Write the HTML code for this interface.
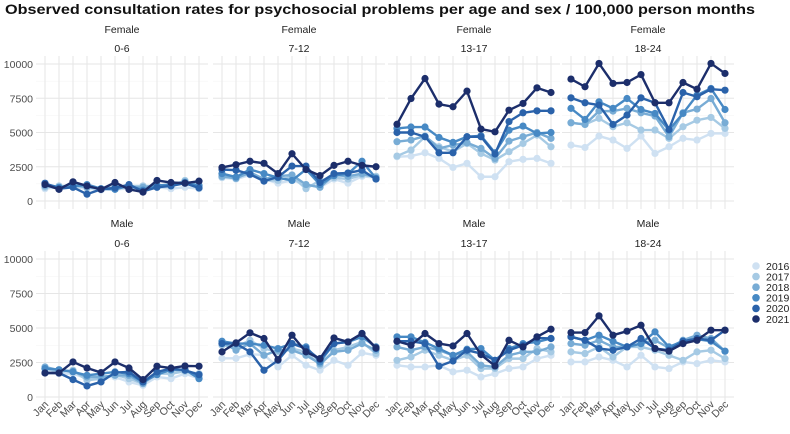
<!DOCTYPE html>
<html><head><meta charset="utf-8"><style>
body{margin:0;background:#fff;}
svg{font-family:"Liberation Sans",sans-serif;}
</style></head><body>
<svg id="chart" width="790" height="429" viewBox="0 0 790 429" xmlns="http://www.w3.org/2000/svg">
<text x="5" y="14" font-size="14" font-weight="bold" fill="#111" textLength="750" lengthAdjust="spacingAndGlyphs">Observed consultation rates for psychosocial problems per age and sex / 100,000 person months</text>
<g id="panels"></g>
<g id="legend"></g>
</svg>
<script>
const months = ["Jan","Feb","Mar","Apr","May","Jun","Jul","Aug","Sep","Oct","Nov","Dec"];
const years = ["2016","2017","2018","2019","2020","2021"];
const yTicks = [0,2500,5000,7500,10000];
const sexes = ["Female","Male"];
const ages = ["0-6","7-12","13-17","18-24"];
const colors = ["#cfe1f2","#a6cae4","#78acd5","#4789c4","#2a62aa","#1c2e6b"];

const female_0_6 = [
 [900,1000,1000,900,800,850,900,1100,1000,900,1000,900],
 [1000,1100,1100,1000,900,1000,1100,1100,1100,1100,1500,1000],
 [1100,1000,1200,1000,900,1000,1000,1000,1100,1250,1400,1150],
 [1250,1000,1050,1200,900,850,1100,800,1150,1150,1350,1100],
 [1300,900,1000,500,850,950,1200,700,1000,1100,1300,950],
 [1200,850,1400,1100,850,1350,850,650,1500,1350,1300,1450]];
const female_7_12 = [
 [1700,1600,1900,1600,1300,1500,1200,1000,1600,1300,1800,1700],
 [1750,1700,2000,1500,1500,1800,900,1500,1700,1600,1900,1800],
 [1800,1650,2100,1600,1800,1900,1200,1000,1900,1800,2000,1700],
 [2000,1750,2300,2000,1700,1500,2300,1200,1850,2000,2900,1650],
 [2300,2250,1950,1450,1750,2550,2550,1350,2000,2050,2250,1600],
 [2450,2650,2900,2750,2000,3450,2300,1850,2600,2900,2600,2500]];
const female_13_17 = [
 [3230,3280,3520,3110,2450,2750,1770,1770,2870,3040,3110,2750],
 [3280,3720,4690,3960,3600,4200,3470,2990,3600,4200,4810,3960],
 [4330,4450,4740,3840,4080,4250,3840,3110,4370,4690,5000,4570],
 [5300,5400,5400,4640,4280,4690,4760,3520,5170,5470,4930,5000],
 [5000,5000,4690,3520,3520,4690,4690,3430,5800,6440,6580,6580],
 [5600,7480,8940,7070,6880,8020,5250,5050,6630,7120,8260,7920]];
const female_18_24 = [
 [4080,3910,4740,4450,3840,4740,3470,3960,4570,4450,4930,4930],
 [5710,5590,6030,5420,5710,5180,5180,4570,5420,5900,6100,5300],
 [5710,5590,6560,6560,6760,6440,6200,4690,6440,6710,7480,5710],
 [6760,5950,7240,6760,7480,6680,6390,5180,6390,7730,8210,6680],
 [7530,7170,7000,5590,6270,7530,7170,5220,7920,7610,8160,8090],
 [8900,8340,10040,8580,8650,9230,7170,7170,8650,8160,10040,9310]];
const male_0_6 = [
 [1820,1690,1690,1330,1450,1450,1090,850,1450,1330,1690,1330],
 [2060,1820,1940,1210,1330,1620,1330,970,1690,1690,1860,1690],
 [2180,1940,1860,1450,1450,1570,1570,970,1820,1940,1940,1570],
 [2060,1980,1820,1570,1690,1820,1690,1090,1620,1980,1980,1330],
 [1740,1740,1260,800,1090,1770,1820,1090,1820,2060,1940,1620],
 [1740,1740,2540,2100,1770,2540,2100,1260,2230,2100,2250,2230]];
const male_7_12 = [
 [2800,2800,3100,3050,2180,3020,2300,1940,2660,2300,3200,3020],
 [3750,3630,4110,3510,3270,3510,3270,2300,3390,3630,3990,3150],
 [3990,3390,3870,3020,3390,3390,3020,2420,3270,3390,3870,3390],
 [4040,3870,3870,3750,3510,3870,3630,2540,3870,3990,4360,3630],
 [3870,3870,3270,1940,2660,3870,3510,2710,3870,3990,4600,3510],
 [3270,3920,4650,4240,2710,4480,3270,2780,4280,3990,4600,3560]];
const male_13_17 = [
 [2300,2180,2180,2300,1820,1940,1450,1690,2060,2180,2780,3020],
 [2660,2900,3390,3020,2660,3020,2060,2060,2780,2780,3510,3270],
 [3630,3390,3630,3390,3020,3270,2300,2180,3020,3270,3270,3630],
 [4360,4360,3950,3510,3020,3460,3510,2660,3510,3870,3990,4240],
 [4040,4040,3870,2230,2610,3390,3150,2660,3390,3750,4280,4240],
 [4040,3750,4600,3870,3700,4600,3070,2250,4110,3630,4360,4910]];
const male_18_24 = [
 [2540,2540,2900,2660,2180,3020,2180,2060,2540,2420,2660,2540],
 [3270,3150,3630,2900,3630,3630,3390,3020,2660,3270,3390,2780],
 [3870,3750,4110,3630,3630,3870,4110,3560,4110,4480,4240,3320],
 [4360,4110,4480,4040,3630,3870,4720,3630,4040,4190,4040,3320],
 [4360,4110,3510,3390,3630,4240,3510,3390,4040,4240,4110,4840],
 [4670,4670,5880,4480,4770,5200,3510,3320,3870,4110,4840,4840]];
const values = [[female_0_6,female_7_12,female_13_17,female_18_24],[male_0_6,male_7_12,male_13_17,male_18_24]];

const NS="http://www.w3.org/2000/svg";
const panelsG=document.getElementById('panels');
const janX=[45,222,397,571], step=14;
const rowZero=[201,397], rowScale=[0.0137,0.0138];
function xScale(p,i){return janX[p]+i*step;}
function yScale(r,v){return rowZero[r]-v*rowScale[r];}
function mk(tag,attrs,parent){const e=document.createElementNS(NS,tag);for(const k in attrs)e.setAttribute(k,attrs[k]);parent.appendChild(e);return e;}

sexes.forEach((sex,r)=>{
  ages.forEach((age,p)=>{
    const g=mk('g',{},panelsG);
    
    
    const x0=xScale(p,0)-9, x1=xScale(p,11)+9;
    for(let v=1250;v<10000;v+=2500){
      const l=mk('line',{x1:x0,x2:x1,y1:yScale(r,v),y2:yScale(r,v),stroke:'#f3f3f3','stroke-width':0.6},g);
      
      
    }
    yTicks.forEach(v=>{
      const l=mk('line',{x1:x0,x2:x1,y1:yScale(r,v),y2:yScale(r,v),stroke:'#e6e6e6','stroke-width':1},g);
      
      
    });
    months.forEach((m,i)=>{
      const l=mk('line',{x1:xScale(p,i),x2:xScale(p,i),y1:yScale(r,10000)-8,y2:yScale(r,0)+8,stroke:'#e6e6e6','stroke-width':1},g);
      
      
    });
    const cx=(xScale(p,0)+xScale(p,11))/2;
    const t1=mk('text',{x:cx,y:r==0?33:227,'text-anchor':'middle','font-size':10.5,fill:'#222'},g);
    t1.textContent=sex;
    
    
    const t2=mk('text',{x:cx,y:r==0?52:247,'text-anchor':'middle','font-size':10.5,fill:'#222'},g);
    t2.textContent=age;
    
    
    if(p==0){
      yTicks.forEach(v=>{
        const t=mk('text',{x:33,y:yScale(r,v)+4,'text-anchor':'end','font-size':10.5,fill:'#4d4d4d'},g);
        t.textContent=v;
        
        
      });
    }
    if(r==1){
      months.forEach((m,i)=>{
        const xx=xScale(p,i)+4, yy=405;
        const t=mk('text',{x:xx,y:yy,'text-anchor':'end','font-size':10.5,fill:'#4d4d4d',transform:`rotate(-45 ${xx} ${yy})`},g);
        t.textContent=m;
        
        
      });
    }
    years.forEach((yr,k)=>{
      const vals=values[r][p][k];
      const pts=vals.map((v,i)=>xScale(p,i)+','+yScale(r,v)).join(' ');
      const pl=mk('polyline',{points:pts,fill:'none',stroke:colors[k],'stroke-width':2.4,'stroke-linejoin':'round'},g);
      
      
      vals.forEach((v,i)=>{
        const c=mk('circle',{cx:xScale(p,i),cy:yScale(r,v),r:3.6,fill:colors[k]},g);
        
        
      });
    });
  });
});
const lg=document.getElementById('legend');
years.forEach((yr,k)=>{
  const y=266+k*10.6;
  const c=mk('circle',{cx:756,cy:y,r:3.8,fill:colors[k]},lg);
  
  
  const t=mk('text',{x:766,y:y+3.8,'font-size':10.5,fill:'#222'},lg);
  t.textContent=yr;
  
  
});
</script>
</body></html>
